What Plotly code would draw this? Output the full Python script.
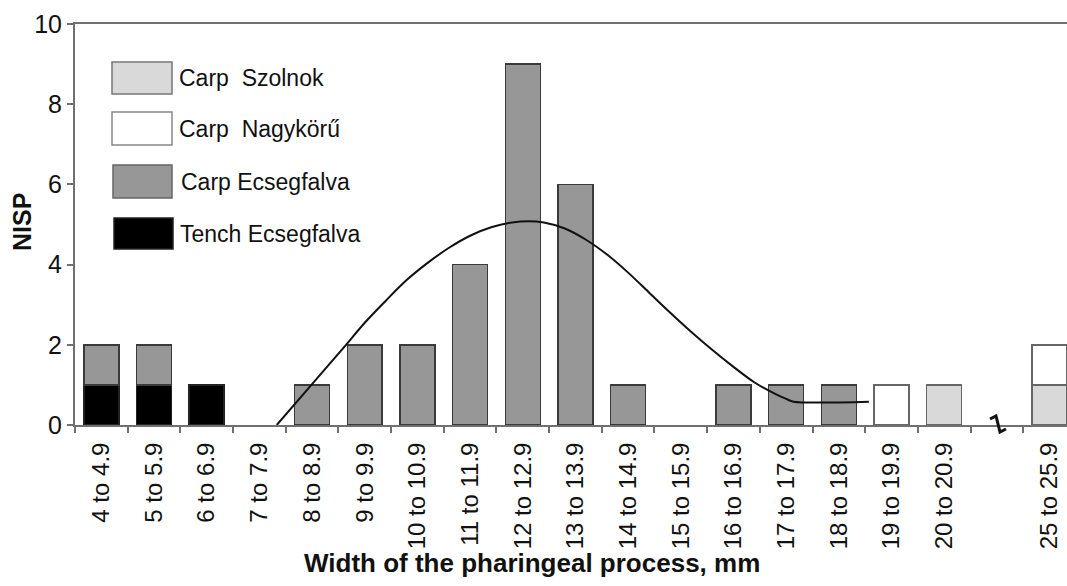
import plotly.graph_objects as go

# ---------------- data ----------------
categories = ["4 to 4.9", "5 to 5.9", "6 to 6.9", "7 to 7.9", "8 to 8.9", "9 to 9.9",
              "10 to 10.9", "11 to 11.9", "12 to 12.9", "13 to 13.9", "14 to 14.9",
              "15 to 15.9", "16 to 16.9", "17 to 17.9", "18 to 18.9", "19 to 19.9",
              "20 to 20.9", " ", "25 to 25.9"]

tench_ecsegfalva = [1, 1, 1, None, None, None, None, None, None, None, None,
                    None, None, None, None, None, None, None, None]
carp_ecsegfalva = [1, 1, None, None, 1, 2, 2, 4, 9, 6, 1,
                   None, 1, 1, 1, None, None, None, None]
carp_szolnok = [None, None, None, None, None, None, None, None, None, None, None,
                None, None, None, None, None, 1, None, 1]
carp_nagykoru = [None, None, None, None, None, None, None, None, None, None, None,
                 None, None, None, None, 1, None, None, 1]

# fitted curve, x in bin-index units (0 = "4 to 4.9")
curve_x = [3.33, 4.0, 4.6, 5.0, 5.4, 5.8, 6.2, 6.6, 7.0, 7.4, 7.8, 8.1, 8.4,
           8.8, 9.2, 9.6, 10.0, 10.4, 10.8, 11.2, 11.6, 12.0, 12.4, 12.8, 13.0,
           13.14, 14.57]
curve_y = [0.0, 1.02, 1.93, 2.55, 3.1, 3.62, 4.05, 4.42, 4.72, 4.93, 5.05, 5.08, 5.05,
           4.9, 4.62, 4.25, 3.8, 3.3, 2.8, 2.32, 1.87, 1.45, 1.06, 0.77, 0.65,
           0.58, 0.58]

legend_labels = ["Carp\u00a0\u00a0Szolnok", "Carp\u00a0\u00a0Nagykörű",
                 "Carp Ecsegfalva", "Tench Ecsegfalva"]

# ---------------- style ----------------
FONT = "Liberation Sans, Arial, sans-serif"
C_SZOL = "#d9d9d9"
C_NAGY = "#ffffff"
C_ECS = "#979797"
C_TENCH = "#000000"
AXC = "#707070"

W, H = 1067, 586
L, R, T, B = 75, 1067, 24, 425


def px(xp):
    return (xp - L) / (R - L)


def py(yp):
    return (B - yp) / (B - T)


fig = go.Figure()
fig.add_trace(go.Bar(x=categories, y=tench_ecsegfalva, name="Tench Ecsegfalva",
                     marker=dict(color=C_TENCH, line=dict(color="#222222", width=1.5))))
fig.add_trace(go.Bar(x=categories, y=carp_ecsegfalva, name="Carp Ecsegfalva",
                     marker=dict(color=C_ECS, line=dict(color="#3a3a3a", width=1.5))))
fig.add_trace(go.Bar(x=categories, y=carp_szolnok, name="Carp Szolnok",
                     marker=dict(color=C_SZOL, line=dict(color="#666666", width=1.5))))
fig.add_trace(go.Bar(x=categories, y=carp_nagykoru, name="Carp Nagykörű",
                     marker=dict(color=C_NAGY, line=dict(color="#666666", width=1.5))))
fig.add_trace(go.Scatter(x=curve_x, y=curve_y, xaxis="x2", mode="lines",
                         line=dict(color="#111111", width=2, shape="spline", smoothing=0.8),
                         showlegend=False, hoverinfo="skip"))

xr = [-0.5, -0.5 + (R - L) / 52.68]

fig.update_layout(
    width=W, height=H,
    margin=dict(l=L, r=W - R, t=T, b=H - B),
    paper_bgcolor="white", plot_bgcolor="white",
    barmode="stack", bargap=0.336,
    showlegend=False,
    font=dict(family=FONT, color="#111111"),
    xaxis=dict(type="category", range=xr, showgrid=False, zeroline=False,
               showline=True, linecolor=AXC, linewidth=2, mirror=True,
               ticks="outside", tickson="boundaries", ticklen=6, tickwidth=1.5,
               tickcolor=AXC, tickangle=-90, ticklabelstandoff=6,
               tickfont=dict(family=FONT, size=24, color="#111111")),
    xaxis2=dict(overlaying="x", range=xr, visible=False, showgrid=False,
                zeroline=False),
    yaxis=dict(range=[0, 10], tickvals=[0, 2, 4, 6, 8, 10], showgrid=False,
               zeroline=False, showline=True, linecolor=AXC, linewidth=2,
               ticks="outside", ticklen=6, tickwidth=1.5, tickcolor=AXC,
               tickfont=dict(family=FONT, size=25, color="#111111")),
)

# axis titles
fig.add_annotation(x=px(532), y=py(563), xref="paper", yref="paper",
                   text="<b>Width of the pharingeal process, mm</b>", showarrow=False,
                   font=dict(family=FONT, size=26, color="#111111"),
                   xanchor="center", yanchor="middle")
fig.add_annotation(x=px(22), y=py(222), xref="paper", yref="paper",
                   text="<b>NISP</b>", showarrow=False, textangle=-90,
                   font=dict(family=FONT, size=25, color="#111111"),
                   xanchor="center", yanchor="middle")

# legend drawn inside the plot
leg_boxes = [(112, 62, 172, 94, C_SZOL, "#777777"),
             (112, 112, 172, 145, C_NAGY, "#888888"),
             (113, 165, 172, 198, C_ECS, "#666666"),
             (114, 218, 173, 249, C_TENCH, "#222222")]
leg_text_x = [177, 177, 179, 178]
for (x0, y0, x1, y1, fc, lc), lab, tx in zip(leg_boxes, legend_labels, leg_text_x):
    fig.add_shape(type="rect", xref="paper", yref="paper",
                  x0=px(x0), x1=px(x1), y0=py(y1), y1=py(y0),
                  fillcolor=fc, line=dict(color=lc, width=1.5))
    fig.add_annotation(x=px(tx), y=py((y0 + y1) / 2), xref="paper", yref="paper",
                       text=lab, showarrow=False, xanchor="left", yanchor="middle",
                       font=dict(family=FONT, size=23, color="#111111"))

# axis break mark
brk = [(990, 419), (996, 416), (1000, 432), (1006, 429)]
path = "M " + " L ".join(f"{px(a)},{py(b)}" for a, b in brk)
fig.add_shape(type="path", xref="paper", yref="paper", path=path,
              line=dict(color="#111111", width=3))

fig.write_html("out.html")
